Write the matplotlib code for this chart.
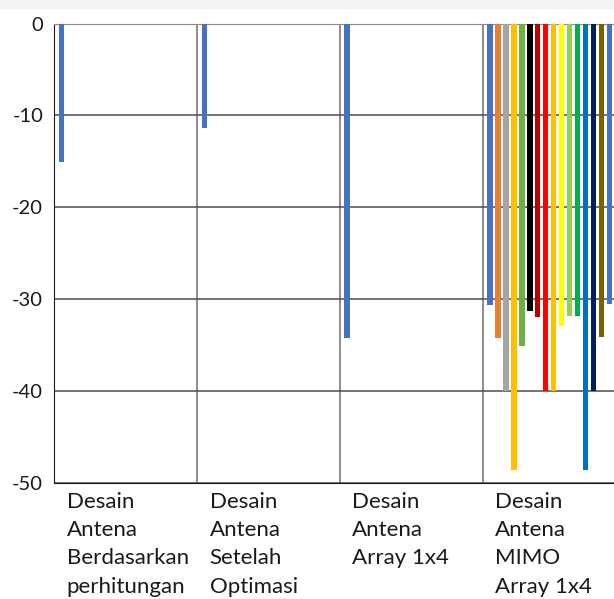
import numpy as np
import matplotlib.pyplot as plt
from matplotlib.patches import Rectangle

plt.rcParams['font.family'] = ['Lato', 'DejaVu Sans']
plt.rcParams['axes.unicode_minus'] = False

# categories (x axis)
categories = [
    "Desain\nAntena\nBerdasarkan\nperhitungan",
    "Desain\nAntena\nSetelah\nOptimasi",
    "Desain\nAntena\nArray 1x4",
    "Desain\nAntena\nMIMO\nArray 1x4",
]

# first series has a value in every category
series_1 = [-15.1, -11.4, -34.2, -30.6]

# the other series only exist for the MIMO design (last category)
mimo_values = [-34.2, -40.0, -48.6, -35.1, -31.3, -31.9, -40.0,
               -40.0, -32.9, -31.8, -31.8, -48.6, -40.0, -34.1, -30.5]

colors = ["#4472C4", "#ED7D31", "#A5A5A5", "#FFC000", "#70AD47", "#000000",
          "#C00000", "#FF0000", "#FFC000", "#FFFF00", "#92D050", "#00B050",
          "#0070C0", "#002060", "#7F6000", "#4472C4"]

yticks = [0, -10, -20, -30, -40, -50]

fig = plt.figure(figsize=(6.14, 5.99), dpi=100)
fig.patches.append(Rectangle((0, 1 - 8 / 599), 1, 8 / 599, transform=fig.transFigure,
                             color="#f3f3f5", zorder=0))

# axes run past the right edge, the last category is cut off like the reference
ax = fig.add_axes([54.3 / 614, 1 - 482.7 / 599, 571.2 / 614, 459 / 599])

offset = 0.051   # first bar centre from category boundary
slot = 0.0557    # spacing between series
width = 0.0385

n_cat = len(categories)
idx = np.arange(n_cat)

# series 1
ax.bar(idx + offset, series_1, width=width, color=colors[0], zorder=3)
# the rest, last category only
for s, v in enumerate(mimo_values, start=1):
    ax.bar(n_cat - 1 + offset + s * slot, v, width=width, color=colors[s], zorder=3)

ax.set_xlim(0, n_cat)
ax.set_ylim(-50, 0)

ax.set_yticks(yticks)
ax.set_yticklabels([str(t) for t in yticks], fontsize=14.5, color='#1a1a1a')
ax.tick_params(axis='y', length=0, pad=8)

# category boundaries as vertical lines
ax.set_xticks(idx, minor=True)
ax.set_xticks(idx + 0.0875)
ax.set_xticklabels(categories, fontsize=16, ha='left', linespacing=1.52, color='#1a1a1a')
ax.tick_params(axis='x', which='both', length=0, pad=6.5)

ax.grid(axis='y', which='major', color='#4d4d4d', linewidth=1.1)
ax.grid(axis='x', which='minor', color='#6e6e6e', linewidth=1.1)
ax.set_axisbelow(True)

ax.spines['right'].set_visible(False)
ax.spines['top'].set_color('#8c8c8c')
ax.spines['left'].set_color('#1a1a1a')
ax.spines['bottom'].set_color('#1a1a1a')

fig.savefig("out.png", dpi=100)
